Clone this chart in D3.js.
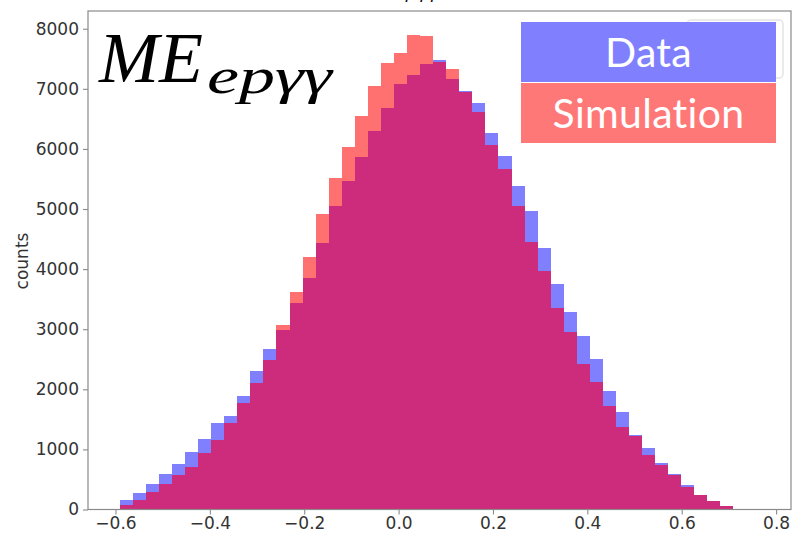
<!DOCTYPE html>
<html>
<head>
<meta charset="utf-8">
<script src="https://cdn.jsdelivr.net/npm/d3@7/dist/d3.min.js"></script>
<style>
  html, body { margin: 0; padding: 0; background: #fff; }
  svg { display: block; }
  text { font-variant-ligatures: none; font-feature-settings: "liga" 0, "dlig" 0; }
</style>
</head>
<body>
<svg id="chart" width="794" height="536"></svg>
<script>
// Histogram binning: 49 equal-width bins
const binStart = -0.5905;
const binWidth = 0.02764;

// Counts per bin, measured data
const dataCounts = [
  155, 277, 416, 599, 760, 960, 1166, 1437, 1560, 1893,
  2298, 2665, 2986, 3431, 3857, 4441, 5057, 5473, 5873, 6306,
  6679, 7079, 7234, 7417, 7480, 7167, 6960, 6762, 6272, 5884,
  5390, 4968, 4347, 3747, 3291, 2886, 2498, 1970, 1615, 1240,
  1025, 766, 583, 405, 240, 146, 62, 12, 4
];

// Counts per bin, simulation
const simCounts = [
  83, 166, 293, 416, 571, 705, 943, 1154, 1443, 1765,
  2098, 2487, 3070, 3624, 4207, 4913, 5523, 6040, 6551, 7051,
  7429, 7595, 7900, 7872, 7440, 7329, 6940, 6622, 6068, 5668,
  5057, 4457, 3974, 3348, 2958, 2420, 2125, 1726, 1376, 1230,
  910, 738, 578, 377, 236, 142, 60, 10, 3
];

const xTicks = [-0.6, -0.4, -0.2, 0.0, 0.2, 0.4, 0.6, 0.8];
const yTicks = [0, 1000, 2000, 3000, 4000, 5000, 6000, 7000, 8000];
const legendLabels = ["Data", "Simulation"];

const colors = {
  data: "#8080ff",
  sim: "#ff7070",
  both: "#cd2b7b",
  legendData: "#8080ff",
  legendSim: "#ff7878"
};

const svg = d3.select("#chart");
const frame = { left: 88, right: 791, top: 11, bottom: 509.5 };

// Bins with both series
const bins = dataCounts.map((d, i) => ({
  x0: binStart + i * binWidth,
  x1: binStart + (i + 1) * binWidth,
  data: d,
  sim: simCounts[i]
}));

const lo = bins[0].x0, hi = bins[bins.length - 1].x1;
const pad = (hi - lo) * 0.05;
const x = d3.scaleLinear().domain([lo - pad, hi + pad]).range([frame.left, frame.right]);
const yMax = d3.max(bins, b => Math.max(b.data, b.sim)) * 1.05;
const y = d3.scaleLinear().domain([0, yMax]).range([frame.bottom, frame.top]);

// Title sitting above the axes (only its lower part is on the page)
svg.append("text")
  .attr("x", 400).attr("y", -2)
  .attr("text-anchor", "middle")
  .attr("font-family", "DejaVu Sans")
  .attr("font-style", "italic")
  .attr("font-size", 18)
  .attr("fill", "#111")
  .text("ME epγγ");

const plot = svg.append("g");

function drawBars(cls, fill, valueOf) {
  plot.selectAll("rect." + cls)
    .data(bins)
    .join("rect")
    .attr("class", cls)
    .attr("x", d => x(d.x0))
    .attr("width", d => x(d.x1) - x(d.x0) + 0.3)
    .attr("y", d => y(valueOf(d)))
    .attr("height", d => y(0) - y(valueOf(d)))
    .attr("fill", fill)
    .attr("shape-rendering", "crispEdges");
}

drawBars("data", colors.data, d => d.data);
drawBars("sim", colors.sim, d => d.sim);
drawBars("both", colors.both, d => Math.min(d.data, d.sim));

// Axes frame
svg.append("rect")
  .attr("x", frame.left).attr("y", frame.top)
  .attr("width", frame.right - frame.left)
  .attr("height", frame.bottom - frame.top)
  .attr("fill", "none")
  .attr("stroke", "#8a8a8a")
  .attr("stroke-width", 1.2);

const fmtX = d => d3.format(".1f")(d).replace("-", "\u2212");

const xAxis = svg.append("g")
  .attr("transform", `translate(0,${frame.bottom})`)
  .call(d3.axisBottom(x).tickValues(xTicks).tickFormat(fmtX).tickSize(5).tickPadding(4));

const yAxis = svg.append("g")
  .attr("transform", `translate(${frame.left},0)`)
  .call(d3.axisLeft(y).tickValues(yTicks).tickFormat(d3.format("d")).tickSize(5).tickPadding(4));

[xAxis, yAxis].forEach(a => {
  a.select(".domain").remove();
  a.selectAll(".tick line").attr("stroke", "#8a8a8a").attr("stroke-width", 1.1);
  a.selectAll(".tick text")
    .attr("font-family", "DejaVu Sans")
    .attr("font-size", 17)
    .attr("fill", "#333");
});
xAxis.selectAll(".tick text").attr("y", 7).attr("dy", "0.71em");

svg.append("text")
  .attr("transform", "translate(28,261) rotate(-90)")
  .attr("text-anchor", "middle")
  .attr("font-family", "DejaVu Sans")
  .attr("font-size", 17)
  .attr("fill", "#333")
  .text("counts");

// Faint original legend frame behind the boxes
svg.append("rect")
  .attr("x", 687).attr("y", 20).attr("width", 96).attr("height", 58)
  .attr("rx", 4)
  .attr("fill", "#fff")
  .attr("stroke", "#e4e4e4")
  .attr("stroke-width", 1.5);

// Legend boxes
const legend = svg.append("g");
const boxes = [
  { label: legendLabels[0], fill: colors.legendData, y0: 22, y1: 82, base: 67 },
  { label: legendLabels[1], fill: colors.legendSim, y0: 83, y1: 143, base: 128 }
];
boxes.forEach(b => {
  legend.append("rect")
    .attr("x", 521).attr("y", b.y0)
    .attr("width", 255).attr("height", b.y1 - b.y0)
    .attr("fill", b.fill);
  legend.append("text")
    .attr("x", 648.5).attr("y", b.base)
    .attr("text-anchor", "middle")
    .attr("font-family", "Lato")
    .attr("font-size", 41)
    .attr("letter-spacing", 0.3)
    .attr("fill", "#fff")
    .text(b.label);
});

// Large math label
const math = svg.append("g")
  .attr("font-family", "Liberation Serif")
  .attr("font-style", "italic")
  .attr("fill", "#000");
math.append("text")
  .attr("x", 99).attr("y", 82)
  .attr("font-size", 72)
  .text("ME");
math.append("text")
  .attr("x", 207).attr("y", 93)
  .attr("font-size", 50)
  .attr("textLength", 125)
  .attr("lengthAdjust", "spacingAndGlyphs")
  .text("epγγ");
</script>
</body>
</html>
